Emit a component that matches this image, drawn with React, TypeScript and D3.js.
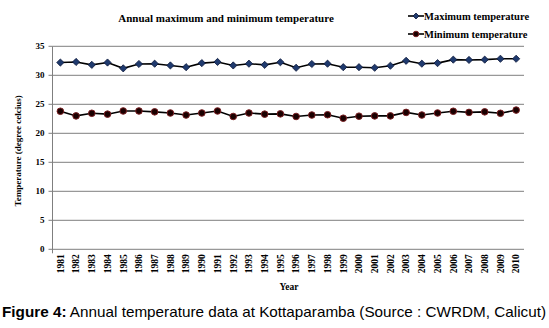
import React from "react";
import * as d3 from "d3";

const years = [
  "1981","1982","1983","1984","1985","1986","1987","1988","1989","1990",
  "1991","1992","1993","1994","1995","1996","1997","1998","1999","2000",
  "2001","2002","2003","2004","2005","2006","2007","2008","2009","2010",
];
const maxTemp = [
  32.2, 32.3, 31.8, 32.2, 31.2, 31.95, 32.0, 31.7, 31.4, 32.1,
  32.3, 31.7, 32.0, 31.8, 32.25, 31.3, 31.95, 32.0, 31.4, 31.4,
  31.3, 31.65, 32.5, 32.0, 32.1, 32.7, 32.65, 32.7, 32.85, 32.85,
];
const minTemp = [
  23.8, 23.0, 23.45, 23.3, 23.85, 23.85, 23.7, 23.5, 23.15, 23.5,
  23.85, 22.9, 23.5, 23.3, 23.35, 22.9, 23.15, 23.2, 22.6, 22.95,
  23.0, 23.0, 23.6, 23.15, 23.5, 23.8, 23.6, 23.7, 23.45, 24.0,
];
const yTicks = [0, 5, 10, 15, 20, 25, 30, 35];

const W = 549;
const H = 328;
const L = 52.5;
const R = 524;
const T = 46.3;
const B = 249.3;

export default function App() {
  const x = d3.scaleBand<string>().domain(years).range([L, R]);
  const y = d3.scaleLinear().domain([0, 35]).range([B, T]);
  const cx = (yr: string) => (x(yr) as number) + x.bandwidth() / 2;
  const line = d3
    .line<number>()
    .x((_, i) => cx(years[i]))
    .y((d) => y(d));
  const serif = "'Liberation Serif', 'Times New Roman', serif";
  const diamond = (px: number, py: number, r: number) =>
    `M${px},${py - r}L${px + r},${py}L${px},${py + r}L${px - r},${py}Z`;

  return (
    <svg
      width={W}
      height={H}
      style={{ position: "absolute", left: 0, top: 0, background: "#fff" }}
    >
      {yTicks.map((t) =>
        t === 0 ? null : (
          <line key={t} x1={L} x2={R} y1={y(t)} y2={y(t)} stroke="#7f7f7f" strokeWidth={1} />
        )
      )}
      <line x1={L} x2={L} y1={T} y2={B + 4} stroke="#7f7f7f" strokeWidth={1} />
      <line x1={L} x2={R} y1={B} y2={B} stroke="#7f7f7f" strokeWidth={1} />
      {yTicks.map((t) => (
        <g key={"yt" + t}>
          <line x1={L - 4} x2={L} y1={y(t)} y2={y(t)} stroke="#7f7f7f" />
          <text
            x={L - 8}
            y={y(t)}
            dy="0.35em"
            textAnchor="end"
            fontFamily={serif}
            fontWeight="bold"
            fontSize={9}
            fill="#000"
          >
            {t}
          </text>
        </g>
      ))}
      {years.map((yr) => (
        <text
          key={yr}
          transform={`translate(${cx(yr)},${B + 5}) rotate(-90)`}
          dy="0.35em"
          textAnchor="end"
          fontFamily={serif}
          fontWeight="bold"
          fontSize={9.5}
          fill="#000"
        >
          {yr}
        </text>
      ))}
      <path d={line(maxTemp) || ""} fill="none" stroke="#000" strokeWidth={1.6} />
      <path d={line(minTemp) || ""} fill="none" stroke="#000" strokeWidth={1.6} />
      {maxTemp.map((v, i) => (
        <path
          key={"mx" + i}
          d={diamond(cx(years[i]), y(v), 3.6)}
          fill="#1f3a6e"
          stroke="#0b1638"
          strokeWidth={0.8}
        />
      ))}
      {minTemp.map((v, i) => (
        <circle
          key={"mn" + i}
          cx={cx(years[i])}
          cy={y(v)}
          r={3.3}
          fill="#1a0000"
          stroke="#7a1f22"
          strokeWidth={1}
        />
      ))}
      <text
        x={226}
        y={22}
        textAnchor="middle"
        fontFamily={serif}
        fontWeight="bold"
        fontSize={11}
        fill="#000"
      >
        Annual maximum and minimum temperature
      </text>
      <g>
        <line x1={408} x2={424} y1={16} y2={16} stroke="#000" strokeWidth={1.6} />
        <path d={diamond(416, 16, 3)} fill="#1f3a6e" stroke="#0b1638" strokeWidth={0.8} />
        <text x={424} y={16} dy="0.35em" fontFamily={serif} fontWeight="bold" fontSize={10.5} fill="#000">
          Maximum temperature
        </text>
        <line x1={408} x2={424} y1={34} y2={34} stroke="#000" strokeWidth={1.6} />
        <circle cx={416} cy={34} r={2.8} fill="#1a0000" stroke="#7a1f22" strokeWidth={1} />
        <text x={424} y={34} dy="0.35em" fontFamily={serif} fontWeight="bold" fontSize={10.5} fill="#000">
          Minimum temperature
        </text>
      </g>
      <text
        transform={`translate(18,${(T + B) / 2 + 3}) rotate(-90)`}
        textAnchor="middle"
        dy="0.35em"
        fontFamily={serif}
        fontWeight="bold"
        fontSize={9}
        fill="#000"
      >
        Temperature (degree celcius)
      </text>
      <text
        x={289}
        y={287}
        textAnchor="middle"
        dy="0.35em"
        fontFamily={serif}
        fontWeight="bold"
        fontSize={9.5}
        fill="#000"
      >
        Year
      </text>
      <text
        x={2}
        y={317}
        fontFamily="'Liberation Sans', Arial, sans-serif"
        fontSize={14.6}
        textLength={544}
        lengthAdjust="spacingAndGlyphs"
        fill="#000"
      >
        <tspan fontWeight="bold">Figure 4:</tspan> Annual temperature data at Kottaparamba (Source : CWRDM, Calicut)
      </text>
    </svg>
  );
}
